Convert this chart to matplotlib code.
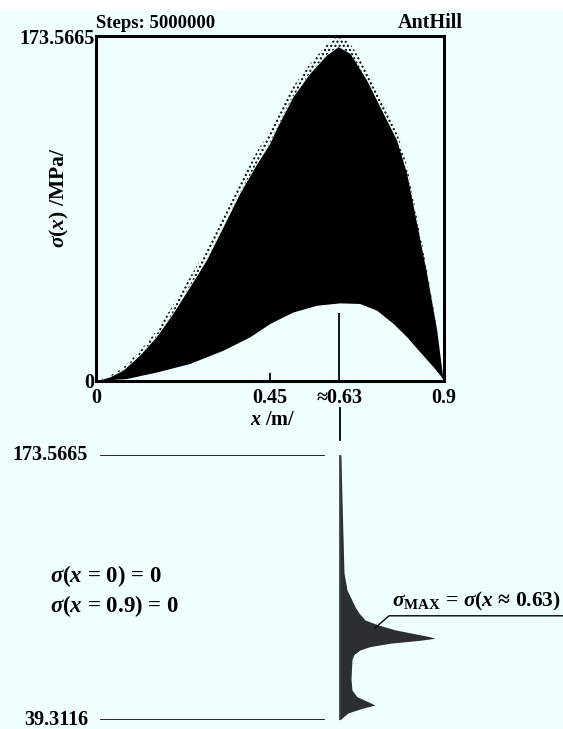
import matplotlib
matplotlib.use("Agg")
import matplotlib.pyplot as plt
from matplotlib.patches import Rectangle

# upper envelope of sigma(x), its speckled fringe and the lower envelope
x_pts = [0.0, 0.035, 0.0695, 0.1128, 0.156, 0.199, 0.2425, 0.2858, 0.3289,
         0.3722, 0.4155, 0.45, 0.4674, 0.51, 0.5538, 0.597, 0.627, 0.6575,
         0.7008, 0.7439, 0.7786, 0.8046, 0.8305, 0.8564, 0.8824, 0.898, 0.9]
upper_pts = [0.0, 2.0, 5.4, 12.9, 22.2, 34.0, 47.3, 60.8, 77.5, 94.4, 109.0,
             119.5, 127.0, 143.0, 154.8, 164.0, 168.2, 164.9, 151.4, 134.6,
             121.2, 104.4, 79.2, 54.0, 25.5, 2.0, 0.0]
fuzz_pts = [0.0, 2.5, 6.5, 15.0, 25.0, 38.0, 52.0, 66.0, 83.0, 100.0, 115.0,
            125.5, 133.0, 148.0, 159.5, 169.0, 173.5, 170.0, 157.0, 140.0,
            126.0, 109.0, 83.0, 57.0, 27.0, 2.0, 0.0]
lower_x = [0.0, 0.035, 0.078, 0.156, 0.2425, 0.329, 0.398, 0.45, 0.467, 0.51,
           0.571, 0.631, 0.683, 0.727, 0.77, 0.805, 0.839, 0.874, 0.895, 0.9]
lower_pts = [0.0, 0.7, 1.2, 4.5, 8.8, 15.5, 22.2, 28.9, 30.6, 34.7, 38.1, 39.3,
             39.0, 35.6, 28.9, 22.2, 14.6, 7.0, 2.0, 0.0]

# distribution of sigma_MAX (relative frequency, arbitrary units)
hist_s = [173.5665, 160.9, 141.6, 113.8, 105.2, 96.7, 93.5, 90.0, 87.5, 85.0,
          83.0, 81.5, 80.7, 79.7, 78.2, 76.5, 74.8, 72.5, 70.0, 60.0, 54.5,
          51.1, 48.6, 46.9, 45.2, 42.9, 40.3, 39.3116]
hist_w = [1, 1.5, 2.5, 4, 7, 15, 19, 25, 38, 55, 75, 90, 95, 80, 50, 30, 20,
          14, 12, 11, 12, 17, 28, 35, 22, 8, 2, 0]

s_min, s_max = 39.3116, 173.5665
x_ticks = [0, 0.45, 0.63, 0.9]
x_labels = ["0", "0.45", "≈0.63", "0.9"]

BG = "#F0FFFF"
plt.rcParams["font.family"] = ["Liberation Serif", "DejaVu Serif"]
plt.rcParams["font.weight"] = "bold"
plt.rcParams["mathtext.fontset"] = "custom"
plt.rcParams["mathtext.rm"] = "Liberation Serif:weight=bold"
plt.rcParams["mathtext.bf"] = "Liberation Serif:weight=bold"
plt.rcParams["mathtext.it"] = "Liberation Serif:style=italic:weight=bold"

W, H = 563, 729
fig = plt.figure(figsize=(W / 100, H / 100), dpi=100)
fig.patch.set_facecolor(BG)
fig.patches.append(Rectangle((0, 1 - 10 / H), 1, 10 / H, transform=fig.transFigure,
                             facecolor="white", edgecolor="none", zorder=-1))


def px_rect(l, t, r, b):
    return [l / W, 1 - b / H, (r - l) / W, (b - t) / H]


FS = 14.5

ax = fig.add_axes(px_rect(96, 36, 443.5, 381))
ax.set_facecolor(BG)
ax.fill_between(x_pts, upper_pts, fuzz_pts, facecolor="none", edgecolor="black",
                hatch="....", lw=0)
ax.fill_between(x_pts, 0, upper_pts, color="black", lw=0)
ax.fill_between(lower_x, 0, lower_pts, color=BG, lw=0)
ax.set_xlim(0, 0.9)
ax.set_ylim(0, s_max)
for sp in ax.spines.values():
    sp.set_linewidth(2.2)

ax.set_xticks(x_ticks)
ax.set_xticklabels(x_labels, fontsize=FS, fontweight="bold")
ax.set_yticks([0, s_max])
ax.set_yticklabels(["0", "173.5665"], fontsize=FS, fontweight="bold")
ax.tick_params(axis="y", length=0, pad=1)
ax.tick_params(axis="x", direction="in", length=0, pad=5, width=1.3)
ticks = ax.xaxis.get_major_ticks()
ticks[1].tick1line.set_markersize(6)
ticks[2].tick1line.set_markersize(49)

ax.set_xlabel(r"$x$ /m/", fontsize=FS, fontweight="bold")
ax.xaxis.set_label_coords(0.51, -0.085)
ax.set_ylabel(r"$\sigma(x)$ /MPa/", fontsize=15.5, fontweight="bold")
ax.yaxis.set_label_coords(-0.072, 0.53)

fig.text(96 / W, 1 - 28 / H, "Steps: 5000000", fontsize=13.5, fontweight="bold",
         va="baseline", ha="left")
fig.text(463 / W, 1 - 28 / H, "AntHill", fontsize=14.5, fontweight="bold",
         va="baseline", ha="right")

# lower panel: distribution of sigma_MAX
ax2 = fig.add_axes(px_rect(0, 455, 563, 720))
ax2.set_xlim(-340, 223)
ax2.set_ylim(s_min, s_max)
ax2.axis("off")
ax2.fill_betweenx(hist_s, 0, hist_w, color="#2b2f33", lw=0)
ax2.plot([0, 0], [s_min - 1.5, s_max], color="#2b2f33", lw=1.2)
ax2.plot([0, 0], [181.2, 197.4], color="black", lw=1.3, clip_on=False)
ax2.hlines([s_max, s_min], -240, -15, color="black", lw=1.2)
ax2.text(-252, s_max, "173.5665", fontsize=FS, fontweight="bold", ha="right", va="center")
ax2.text(-252, s_min, "39.3116", fontsize=FS, fontweight="bold", ha="right", va="center")
ax2.text(-290, 112.3, r"$\sigma(x$ = 0$)$ = 0", fontsize=16.5, ha="left", va="center")
ax2.text(-290, 97.1, r"$\sigma(x$ = 0.9$)$ = 0", fontsize=16.5, ha="left", va="center")

ax2.plot([35, 49, 230], [85.9, 92.1, 92.1], color="black", lw=1, clip_on=False)
ax2.text(52, 93.5, r"$\sigma_{\mathbf{MAX}}$ = $\sigma(x$ ≈ 0.63$)$", fontsize=15.5,
         ha="left", va="bottom", clip_on=False)

fig.savefig("out.png", dpi=100, facecolor=BG)
